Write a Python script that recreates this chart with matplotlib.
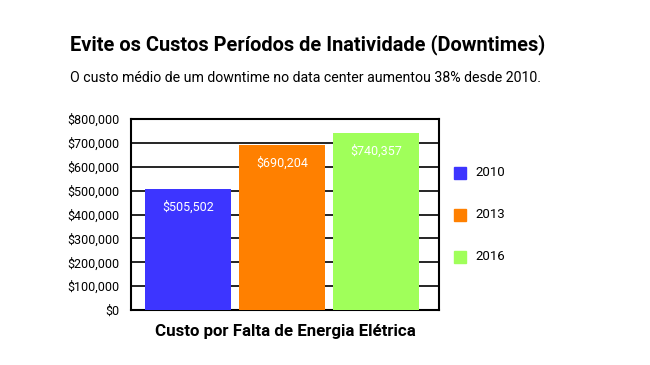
import matplotlib.pyplot as plt
from matplotlib.patches import Rectangle

plt.rcParams["font.family"] = ["Roboto", "DejaVu Sans"]

years = ["2010", "2013", "2016"]
costs = [505502, 690204, 740357]
colors = ["#3D35FF", "#FF8000", "#A0FF5A"]
yticks = [0, 100000, 200000, 300000, 400000, 500000, 600000, 700000, 800000]

fig = plt.figure(figsize=(6.5, 3.65), dpi=100)
ax = fig.add_axes([131 / 650, 1 - 310 / 365, (439 - 131) / 650, (310 - 119) / 365])

x = list(range(len(years)))
bars = ax.bar(x, costs, width=0.915, color=colors, zorder=3)
ax.set_xlim(-0.606, 2.67)
ax.set_ylim(0, 800000)

ax.set_yticks(yticks)
ax.set_yticklabels([f"${v:,}" for v in yticks], fontsize=9)
ax.set_xticks([])
ax.tick_params(axis="y", length=0, pad=8)
ax.grid(axis="y", color="black", linewidth=1.2, zorder=0)
for spine in ax.spines.values():
    spine.set_linewidth(1.5)

# value labels inside the bars
for b, v in zip(bars, costs):
    ax.annotate(f"${v:,}", (b.get_x() + b.get_width() / 2, v),
                xytext=(0, -18), textcoords="offset pixels",
                ha="center", va="center", color="white", fontsize=9, zorder=4)

ax.set_xlabel("Custo por Falta de Energia Elétrica", fontsize=12.2, fontweight="bold", labelpad=10)

# legend on the right
for i, (yr, c) in enumerate(zip(years, colors)):
    ly = 1 - (173 + 42 * i) / 365
    fig.patches.append(Rectangle((454 / 650, ly - 6 / 365), 12 / 650, 12 / 365,
                                 transform=fig.transFigure, color=c))
    fig.text(475 / 650, ly, yr, fontsize=9.5, va="center")

fig.text(70 / 650, 1 - 45 / 365, "Evite os Custos Períodos de Inatividade (Downtimes)",
         fontsize=14.4, fontweight="bold", va="center")
fig.text(70 / 650, 1 - 78 / 365,
         "O custo médio de um downtime no data center aumentou 38% desde 2010.",
         fontsize=10.2, va="center")

fig.savefig("out.png", dpi=100)
